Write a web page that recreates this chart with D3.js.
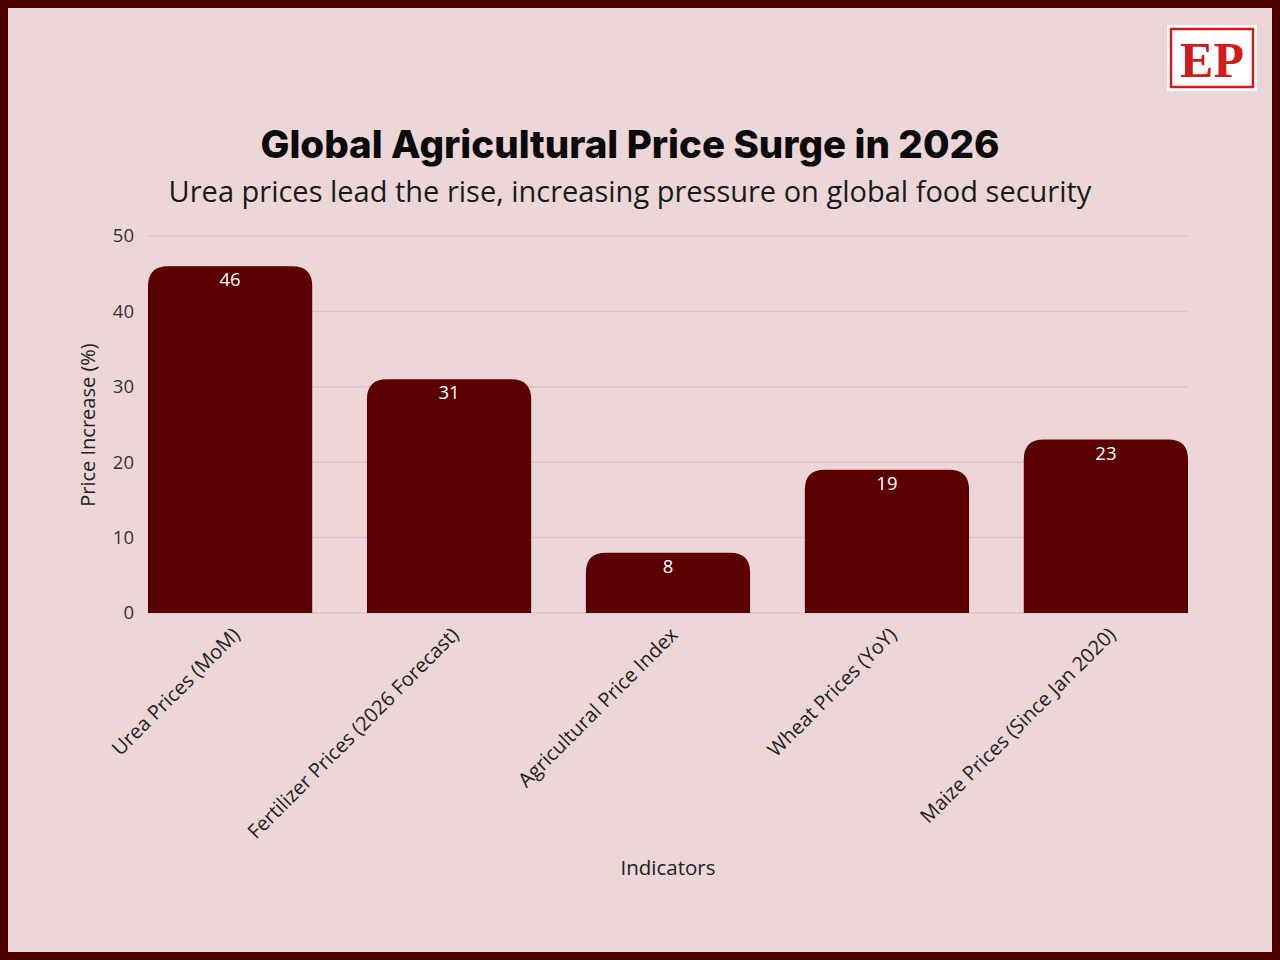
<!DOCTYPE html>
<html>
<head>
<meta charset="utf-8">
<script src="https://cdn.jsdelivr.net/npm/d3@7"></script>
<style>
  html, body { margin: 0; padding: 0; background: #4d0000; }
  svg { display: block; }
</style>
</head>
<body>
<svg width="1280" height="960"></svg>
<script>
// Chart data.
const categories = [
  'Urea Prices (MoM)',
  'Fertilizer Prices (2026 Forecast)',
  'Agricultural Price Index',
  'Wheat Prices (YoY)',
  'Maize Prices (Since Jan 2020)',
];
const values = [46, 31, 8, 19, 23];
const yTicks = [0, 10, 20, 30, 40, 50];

const BAR_COLOR = '#5a0000';
const BG_COLOR = '#ecd6d8';

const svg = d3.select('svg');

// Dark frame with a pale panel inside.
svg.append('rect')
    .attr('width', 1280).attr('height', 960)
    .attr('fill', '#4d0000');
svg.append('rect')
    .attr('x', 8).attr('y', 8)
    .attr('width', 1264).attr('height', 944)
    .attr('fill', BG_COLOR);

// EP logo, top right.
const logo = svg.append('g').attr('transform', 'translate(1167,25)');
logo.append('rect')
    .attr('width', 90).attr('height', 66)
    .attr('fill', '#ffffff');
logo.append('rect')
    .attr('x', 4).attr('y', 4)
    .attr('width', 82).attr('height', 58)
    .attr('fill', 'none')
    .attr('stroke', '#d11a1a')
    .attr('stroke-width', 2.5);
logo.append('text')
    .attr('x', 45).attr('y', 52)
    .attr('text-anchor', 'middle')
    .attr('font-family', '"Liberation Serif", serif')
    .attr('font-weight', 'bold')
    .attr('font-size', 50)
    .attr('fill', '#d11a1a')
    .text('EP');

// Titles.
svg.append('text')
    .attr('x', 630).attr('y', 158)
    .attr('text-anchor', 'middle')
    .attr('font-family', 'Inter, sans-serif')
    .attr('font-weight', 800)
    .attr('font-size', 38.5)
    .attr('fill', '#0a0a0a')
    .text('Global Agricultural Price Surge in 2026');
svg.append('text')
    .attr('x', 630).attr('y', 202)
    .attr('text-anchor', 'middle')
    .attr('font-family', '"Open Sans", sans-serif')
    .attr('font-size', 29)
    .attr('fill', '#1a1a1a')
    .text('Urea prices lead the rise, increasing pressure on global food security');

// Plot area.
const plot = {left: 148, right: 1188, top: 236, bottom: 613};

const x = d3.scaleBand()
    .domain(categories)
    .range([plot.left, plot.right])
    .paddingInner(0.25)
    .paddingOuter(0);

const y = d3.scaleLinear()
    .domain([0, 50])
    .range([plot.bottom, plot.top]);

// Gridlines.
svg.append('g')
    .selectAll('line')
    .data(yTicks)
    .join('line')
    .attr('x1', plot.left).attr('x2', plot.right)
    .attr('y1', d => y(d)).attr('y2', d => y(d))
    .attr('stroke', '#dcc4c6')
    .attr('stroke-width', 1.5);

// Y axis labels.
const yAxis = svg.append('g')
    .attr('transform', `translate(${plot.left},0)`)
    .call(d3.axisLeft(y).tickValues(yTicks).tickSize(0).tickPadding(14));
yAxis.select('.domain').remove();
yAxis.selectAll('text')
    .attr('font-family', '"Open Sans", sans-serif')
    .attr('font-size', 18.5)
    .attr('fill', '#333');

// Bars with rounded top corners.
const r = 20;
function barPath(d, i) {
  const x0 = x(categories[i]);
  const x1 = x0 + x.bandwidth();
  const y0 = y(d);
  const yb = y(0);
  const rr = Math.min(r, (yb - y0));
  return `M${x0},${yb} L${x0},${y0 + rr} Q${x0},${y0} ${x0 + rr},${y0} ` +
    `L${x1 - rr},${y0} Q${x1},${y0} ${x1},${y0 + rr} L${x1},${yb} Z`;
}
svg.append('g')
    .selectAll('path')
    .data(values)
    .join('path')
    .attr('d', barPath)
    .attr('fill', BAR_COLOR);

// Value labels inside bar tops.
svg.append('g')
    .selectAll('text')
    .data(values)
    .join('text')
    .attr('x', (d, i) => x(categories[i]) + x.bandwidth() / 2)
    .attr('y', d => y(d) + 20)
    .attr('text-anchor', 'middle')
    .attr('font-family', '"Open Sans", sans-serif')
    .attr('font-size', 18.5)
    .attr('fill', '#ffffff')
    .text(d => d);

// X axis labels, rotated.
const xAxis = svg.append('g')
    .attr('transform', `translate(0,${plot.bottom})`)
    .call(d3.axisBottom(x).tickSize(0).tickPadding(0));
xAxis.select('.domain').remove();
xAxis.selectAll('text')
    .attr('font-family', '"Open Sans", sans-serif')
    .attr('font-size', 20)
    .attr('fill', '#222')
    .attr('text-anchor', 'end')
    .attr('dy', 0)
    .attr('transform', 'translate(11,23) rotate(-45)');

// Axis titles.
svg.append('text')
    .attr('x', 668).attr('y', 875)
    .attr('text-anchor', 'middle')
    .attr('font-family', '"Open Sans", sans-serif')
    .attr('font-size', 20.5)
    .attr('fill', '#222')
    .text('Indicators');
svg.append('text')
    .attr('transform', 'translate(95,425) rotate(-90)')
    .attr('text-anchor', 'middle')
    .attr('font-family', '"Open Sans", sans-serif')
    .attr('font-size', 20)
    .attr('fill', '#222')
    .text('Price Increase (%)');
</script>
</body>
</html>
